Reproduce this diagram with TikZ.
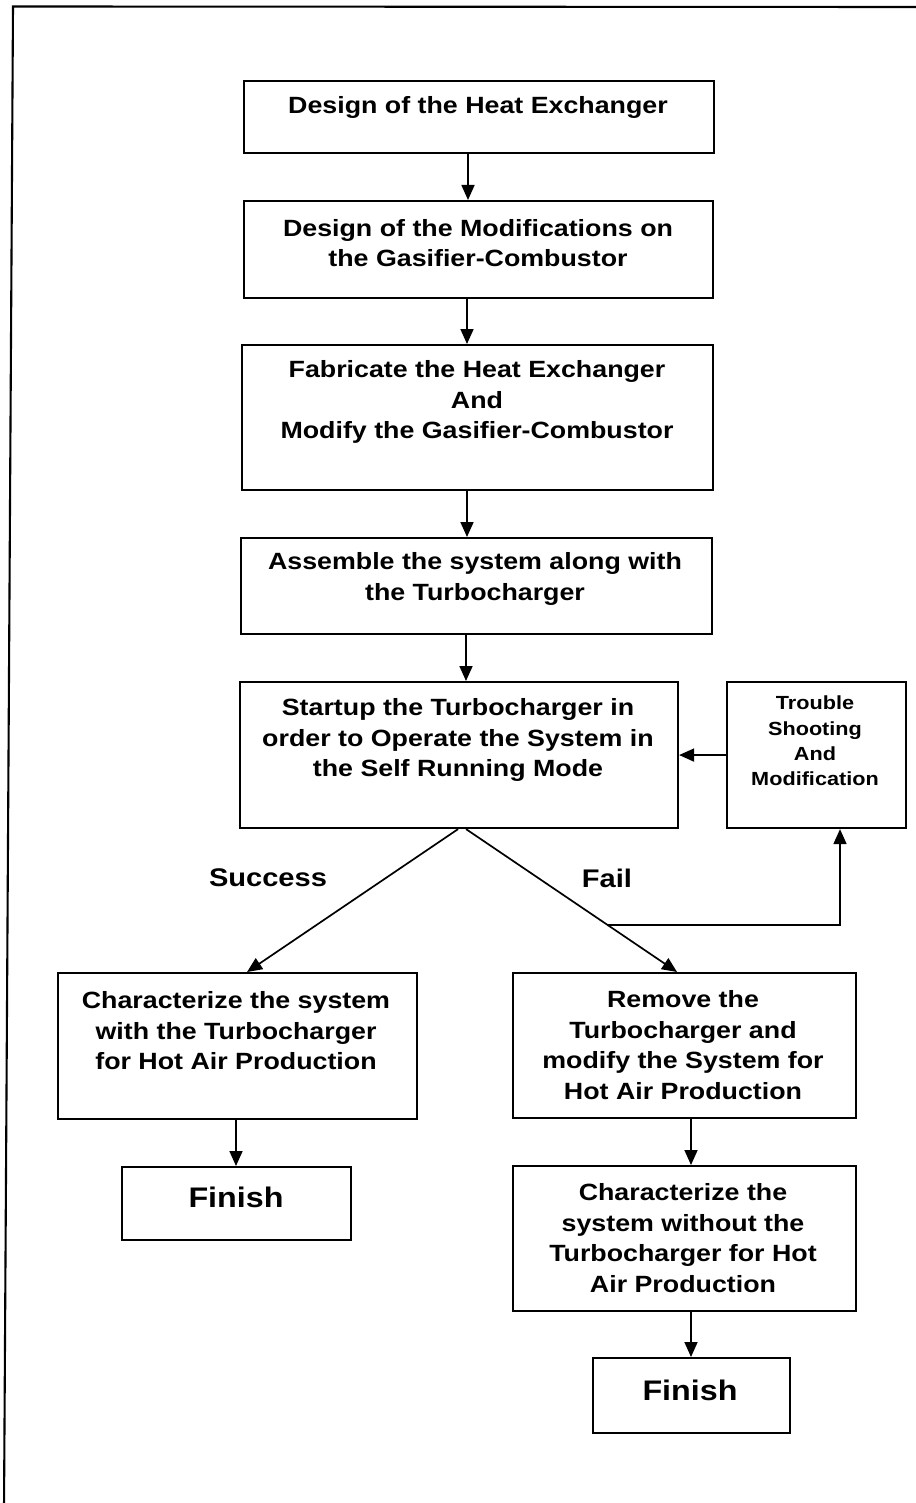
\documentclass[tikz,border=0pt]{standalone}
\usepackage{fontspec}
\setmainfont{Liberation Sans}[FakeStretch=1.14]
\usetikzlibrary{arrows.meta,calc}
\tikzset{
  box/.style={draw=black, line width=2.1pt, rectangle, inner sep=0pt},
  txt/.style={align=center, inner sep=0pt, font=\bfseries\fontsize{23.5}{30.5}\selectfont},
  smalltxt/.style={align=center, inner sep=0pt, font=\bfseries\fontsize{19}{25.3}\selectfont},
  fintxt/.style={inner sep=0pt, font=\bfseries\fontsize{28.3}{34}\selectfont},
  lbltxt/.style={inner sep=0pt, font=\bfseries\fontsize{25.5}{30}\selectfont},
  arr/.style={line width=1.7pt, -{Triangle[length=15pt,width=13pt]}},
  conn/.style={line width=1.7pt},
}
\newcommand{\boxat}[5]{% name, x1, y1, x2, y2
  \node[box, anchor=north west, minimum width={#4-#2}, minimum height={#5-#3}] (#1) at (#2,#3) {};}
\begin{document}
\begin{tikzpicture}[x=1pt,y=-1pt]
\useasboundingbox (0,0) rectangle (915,1503);
% outer frame (left and top edges)
\coordinate (fb) at (4,1510);
\coordinate (ftl) at (13,6.5);
\coordinate (ftr) at (920,7);
\draw[line width=2.1pt] (fb) -- (ftl) -- (ftr);

% boxes
\boxat{b1}{243}{80}{713}{152}
\boxat{b2}{243}{200}{712}{297}
\boxat{b3}{241}{344}{712}{489}
\boxat{b4}{240}{537}{711}{633}
\boxat{b5}{239}{681}{677}{827}
\boxat{bt}{726}{681}{905}{827}
\boxat{bL}{57}{972}{416}{1118}
\boxat{bR}{512}{972}{855}{1117}
\boxat{fL}{121}{1166}{350}{1239}
\boxat{bR2}{512}{1165}{855}{1310}
\boxat{fR}{592}{1357}{789}{1432}

% texts
\node[txt] (t1) at (478,107) {Design of the Heat Exchanger};
\node[txt] (t2) at (478,243) {Design of the Modifications on\\the Gasifier-Combustor};
\node[txt] (t3) at (477,402) {Fabricate the Heat Exchanger\\And\\Modify the Gasifier-Combustor};
\node[txt] (t4) at (475,579) {Assemble the system along with\\the Turbocharger};
\node[txt] (t5) at (458,740) {Startup the Turbocharger in\\order to Operate the System in\\the Self Running Mode};
\node[smalltxt] (tt) at (815,741) {Trouble\\Shooting\\And\\Modification};
\node[txt] (tL) at (236,1031) {Characterize the system\\with the Turbocharger\\for Hot Air Production};
\node[txt] (tR) at (683,1045) {Remove the\\Turbocharger and\\modify the System for\\Hot Air Production};
\node[txt] (tR2) at (683,1238) {Characterize the\\system without the\\Turbocharger for Hot\\Air Production};
\node[fintxt] (tfL) at (236,1197) {Finish};
\node[fintxt] (tfR) at (690,1390) {Finish};
\node[lbltxt] (ls) at (268,878) {Success};
\node[lbltxt] (lf) at (607,878) {Fail};

% vertical connectors
\coordinate (x1) at (468,0);
\coordinate (x2) at (467,0);
\coordinate (x3) at (467,0);
\coordinate (x4) at (466,0);
\coordinate (x5) at (236,0);
\coordinate (x6) at (691,0);
\draw[arr] (b1.south -| x1) -- (b2.north -| x1);
\draw[arr] (b2.south -| x2) -- (b3.north -| x2);
\draw[arr] (b3.south -| x3) -- (b4.north -| x3);
\draw[arr] (b4.south -| x4) -- (b5.north -| x4);
\draw[arr] (bL.south -| x5) -- (fL.north -| x5);
\draw[arr] (bR.south -| x6) -- (bR2.north -| x6);
\draw[arr] (bR2.south -| x6) -- (fR.north -| x6);

% trouble shooting loop
\draw[arr] (bt.west) -- (b5.east |- bt.west);

% branches
\coordinate (sL) at ($(b5.south)+(-1,0)$);
\coordinate (sR) at ($(b5.south)+(7,0)$);
\coordinate (eL) at ($(bL.north)+(9.5,0)$);
\coordinate (eR) at ($(bR.north)+(-7.5,0)$);
\draw[arr] (sL) -- (eL);
\draw[arr] (sR) -- (eR);
\coordinate (fp) at ($(sR)!0.669!(eR)$);
\coordinate (xt) at (840,0);
\draw[arr] (fp) -- (fp -| xt) -- (bt.south -| xt);
\end{tikzpicture}
\end{document}
